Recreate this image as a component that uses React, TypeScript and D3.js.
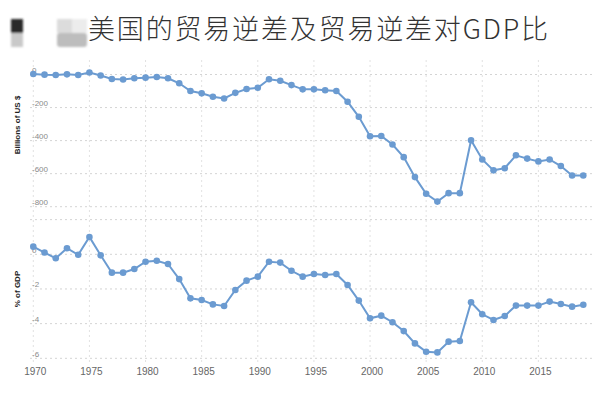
import * as d3 from "d3";

const years = d3.range(1970, 2020);

// trade balance, billions of US $
const balance = [
  3, -1, -3, 1, -3, 12, -6, -27, -30, -23, -19, -15, -23, -53, -100, -114,
  -135, -145, -111, -88, -80, -29, -38, -64, -90, -90, -95, -100, -165, -256,
  -374, -372, -424, -500, -621, -722, -769, -718, -718, -398, -514, -580, -567,
  -489, -509, -526, -514, -554, -611, -611,
];

// trade balance, % of GDP
const pctGdp = [
  0.44, 0.1, -0.23, 0.35, -0.03, 1.0, -0.06, -1.06, -1.06, -0.85, -0.43, -0.37,
  -0.56, -1.43, -2.54, -2.64, -2.89, -2.98, -2.06, -1.52, -1.29, -0.43, -0.48,
  -0.95, -1.29, -1.14, -1.19, -1.14, -1.77, -2.67, -3.69, -3.54, -3.92, -4.43,
  -5.14, -5.62, -5.66, -5.04, -5.0, -2.77, -3.46, -3.79, -3.56, -2.96, -2.96,
  -2.96, -2.73, -2.87, -3.02, -2.91,
];

const topTicks = [0, -200, -400, -600, -800];
const bottomTicks = [0, -2, -4, -6];
const yearTicks = [1970, 1975, 1980, 1985, 1990, 1995, 2000, 2005, 2010, 2015];

const title = "美国的贸易逆差及贸易逆差对GDP比";
const blue = "#6b9bd1";

const W = 600;
const H = 395;

function Panel({
  values,
  ticks,
  y,
  x,
}: {
  values: number[];
  ticks: number[];
  y: d3.ScaleLinear<number, number>;
  x: d3.ScaleLinear<number, number>;
}) {
  const line = d3
    .line<number>()
    .x((_, i) => x(years[i]))
    .y((d) => y(d));
  return (
    <g>
      {ticks.map((t) => (
        <g key={t}>
          <line
            x1={30}
            x2={592}
            y1={y(t)}
            y2={y(t)}
            stroke="#d4d4d4"
            strokeWidth={1}
            strokeDasharray="2,3"
          />
          <text
            x={32}
            y={y(t) - 1.5}
            fontSize={8}
            fill="#8a8a8a"
            fontFamily="Arial, 'Liberation Sans', sans-serif"
          >
            {t}
          </text>
        </g>
      ))}
      <path d={line(values) ?? ""} fill="none" stroke={blue} strokeWidth={2} />
      {values.map((v, i) => (
        <circle key={i} cx={x(years[i])} cy={y(v)} r={3.3} fill={blue} />
      ))}
    </g>
  );
}

export default function App() {
  const x = d3.scaleLinear().domain([1970, 2019]).range([33.3, 583.3]);
  const yTop = d3.scaleLinear().domain([0, -800]).range([74.5, 206.7]);
  const yBot = d3.scaleLinear().domain([0, -6]).range([254.3, 358.3]);

  return (
    <div style={{ position: "absolute", left: 0, top: 0 }}>
      <svg width={W} height={H} viewBox={`0 0 ${W} ${H}`} style={{ display: "block", background: "#fff" }}>
        <defs>
          <filter id="blur" x="-20%" y="-20%" width="140%" height="140%">
            <feGaussianBlur stdDeviation="1.2" />
          </filter>
        </defs>
        {/* blurred logo block */}
        <g filter="url(#blur)">
          <rect x={11} y={19} width={12} height={14} fill="#2a2a2a" />
          <rect x={11} y={33} width={12} height={14} fill="#c9c9c9" />
          <rect x={57} y={19} width={15} height={14} fill="#dcdcdc" />
          <rect x={72} y={19} width={15} height={14} fill="#ececec" />
          <rect x={57} y={33} width={30} height={14} rx={3} fill="#bdbdbd" />
        </g>
        <text
          x={88}
          y={39}
          fontSize={27}
          fill="#333"
          textLength={460}
          lengthAdjust="spacing"
          fontFamily="'Noto Sans CJK SC', sans-serif"
          fontWeight={300}
        >
          {title}
        </text>

        {/* vertical grid */}
        {yearTicks.map((yr) => (
          <line
            key={yr}
            x1={x(yr)}
            x2={x(yr)}
            y1={60}
            y2={362}
            stroke="#e2e2e2"
            strokeWidth={1}
            strokeDasharray="2,3"
          />
        ))}
        <line x1={30} x2={592} y1={yBot(2)} y2={yBot(2)} stroke="#d4d4d4" strokeDasharray="2,3" />

        <Panel values={balance} ticks={topTicks} y={yTop} x={x} />
        <Panel values={pctGdp} ticks={bottomTicks} y={yBot} x={x} />

        {yearTicks.map((yr) => (
          <text
            key={yr}
            x={x(yr) + 2}
            y={375}
            fontSize={10}
            textAnchor="middle"
            fill="#666"
            fontFamily="Arial, 'Liberation Sans', sans-serif"
          >
            {yr}
          </text>
        ))}

        <text
          transform={`translate(20,125) rotate(-90)`}
          textAnchor="middle"
          fontSize={8}
          fontWeight="bold"
          fill="#222"
          fontFamily="Arial, 'Liberation Sans', sans-serif"
        >
          Billions of US $
        </text>
        <text
          transform={`translate(20,289) rotate(-90)`}
          textAnchor="middle"
          fontSize={8}
          fontWeight="bold"
          fill="#222"
          fontFamily="Arial, 'Liberation Sans', sans-serif"
        >
          % of GDP
        </text>
      </svg>
    </div>
  );
}
